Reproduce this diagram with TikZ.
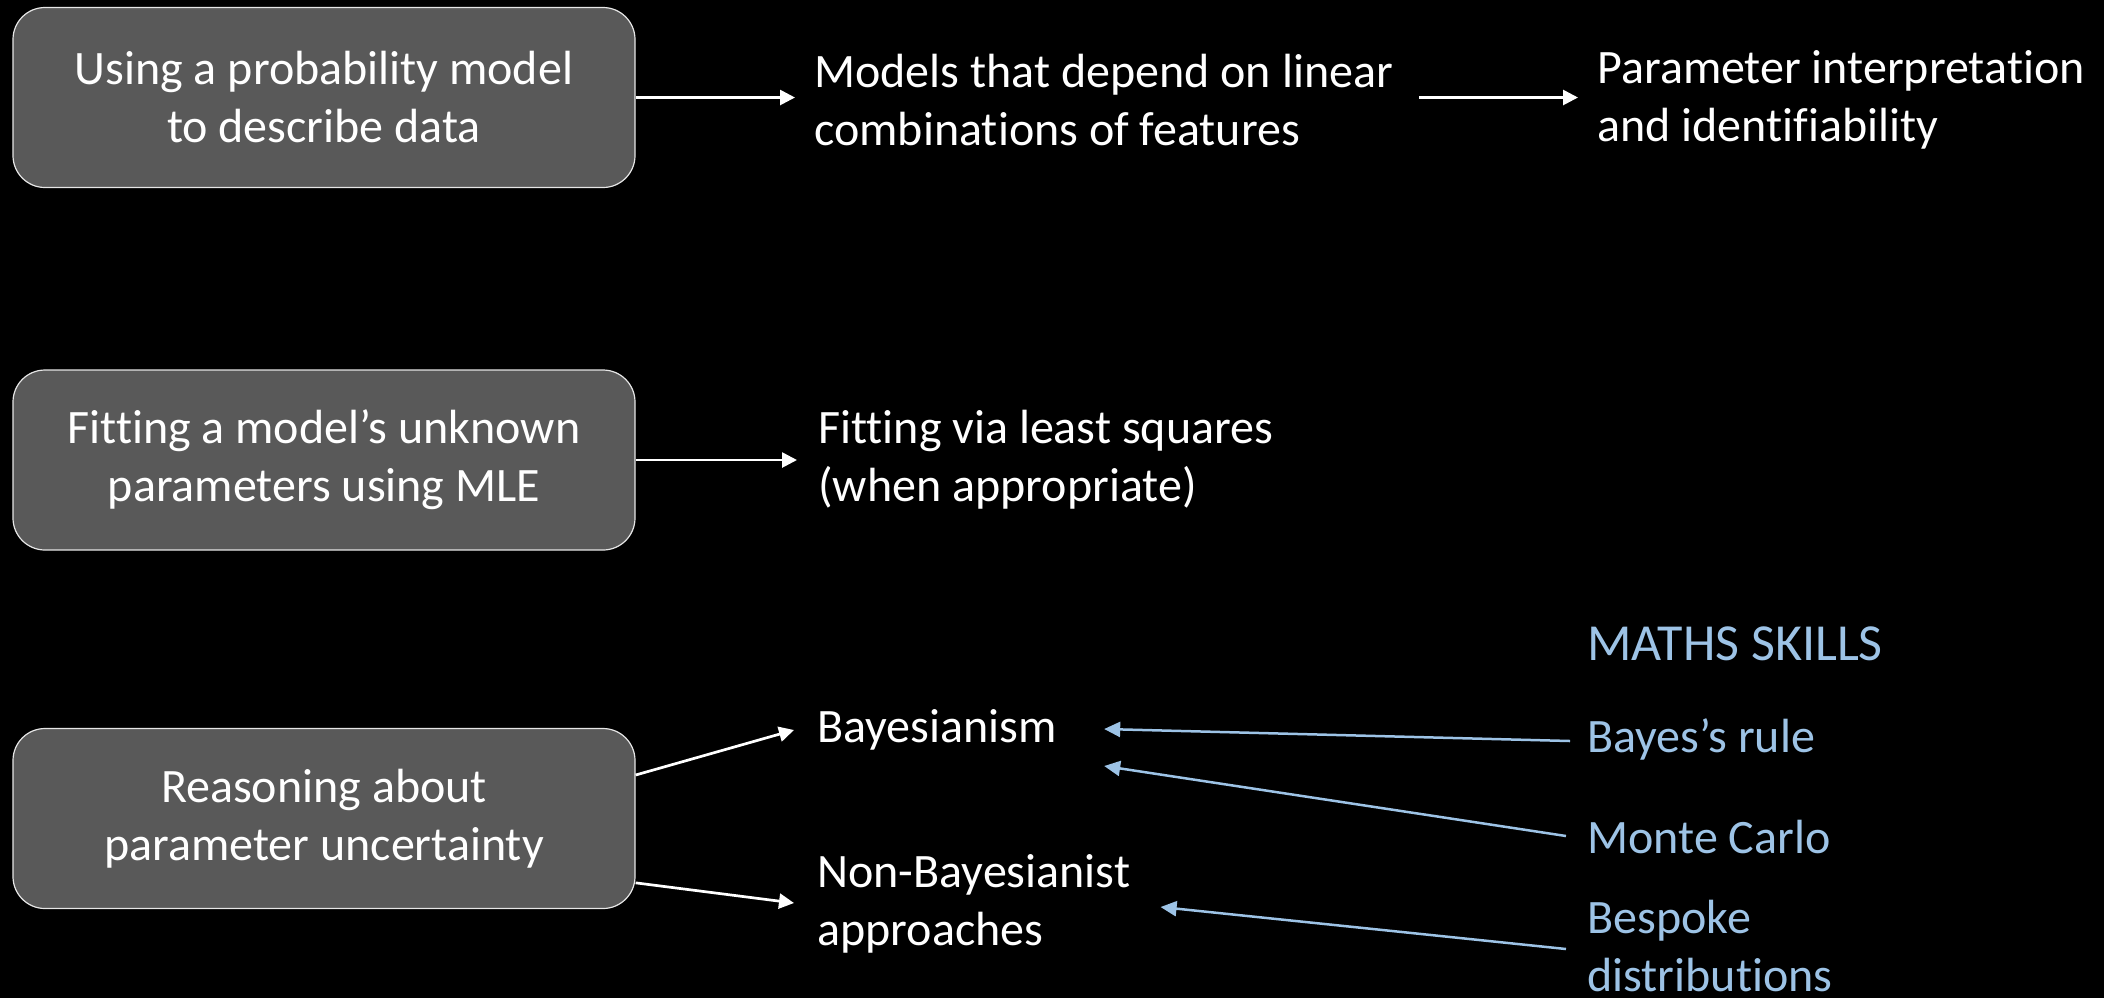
\documentclass[tikz,border=0pt]{standalone}
\usepackage{fontspec}
\setmainfont{Carlito}[Ligatures=NoCommon, RawFeature={-liga;-clig;-calt}]
\usetikzlibrary{arrows.meta,calc}
\definecolor{boxgray}{RGB}{89,89,89}
\definecolor{boxedge}{RGB}{230,230,230}
\definecolor{skillblue}{RGB}{157,195,230}
\newcommand{\slidefont}{\fontsize{24}{29}\selectfont}
\begin{document}
\begin{tikzpicture}[x=0.5pt,y=-0.5pt,
  topic/.style={draw=boxedge, line width=0.6pt, fill=boxgray, rounded corners=16pt,
    minimum width=311pt, minimum height=90pt, align=center, text=white,
    font=\slidefont, inner sep=0pt},
  item/.style={anchor=west, align=left, text=white, font=\slidefont, inner sep=0pt},
  skill/.style={anchor=west, align=left, text=skillblue, font=\slidefont, inner sep=0pt},
  flow/.style={draw=white, line width=1.35pt, -{Triangle[length=7.5pt,width=7.5pt]}},
  link/.style={draw=skillblue, line width=1.25pt, -{Triangle[length=8pt,width=7.5pt]}}]

% page background
\path[fill=black] (0,0) rectangle (2104,998);

% topic boxes
\node[topic] (b1) at (324,97.5) {Using a probability model\\to describe data};
\node[topic] (b2) at (324,460) {Fitting a model’s unknown\\parameters using MLE};
\node[topic] (b3) at (324,818.5) {Reasoning about\\parameter uncertainty};

% follow-on topics
\node[item] (models) at (814,100) {Models that depend on linear\\combinations of features};
\node[item] (param) at (1597,100) {Parameter interpretation\\and identifiability};
\node[item] (lsq) at (818,460) {Fitting via least squares\\(when appropriate)};
\node[item] (bayes) at (817,730) {Bayesianism};
\node[item] (nonbayes) at (817,904) {Non-Bayesianist\\approaches};

% maths skills column
\node[skill, font=\fontsize{26}{31}\selectfont] (skills) at (1587,644) {MATHS SKILLS};
\node[skill] (rule) at (1587,739) {Bayes’s rule};
\node[skill] (monte) at (1587,837) {Monte Carlo};
\node[skill] (bespoke) at (1587,946) {Bespoke\\distributions};

% white flow arrows
\draw[flow] (b1.east) -- (b1.east -| models.west) [shorten >=9.5pt];
\draw[flow] ([xshift=13pt]models.east |- b1.east) -- (b1.east -| param.west) [shorten >=9.5pt];
\draw[flow] (b2.east) -- (b2.east -| lsq.west) [shorten >=10.5pt];
\draw[flow] ($(b3.north east)!0.26!(b3.south east)$) -- ($(bayes.west)+(-23,0)$);
\draw[flow] ($(b3.north east)!0.855!(b3.south east)$) -- ($(nonbayes.west)+(-23,-1)$);

% blue skill links
\draw[link] ($(rule.west)+(-17,2)$) -- ($(bayes.east)+(47,-1)$);
\draw[link] ($(monte.west)+(-21,-1)$) -- ($(bayes.east)+(47,36)$);
\draw[link] ($(bespoke.west)+(-21,3)$) -- ($(nonbayes.east)+(30,3)$);
\end{tikzpicture}
\end{document}
